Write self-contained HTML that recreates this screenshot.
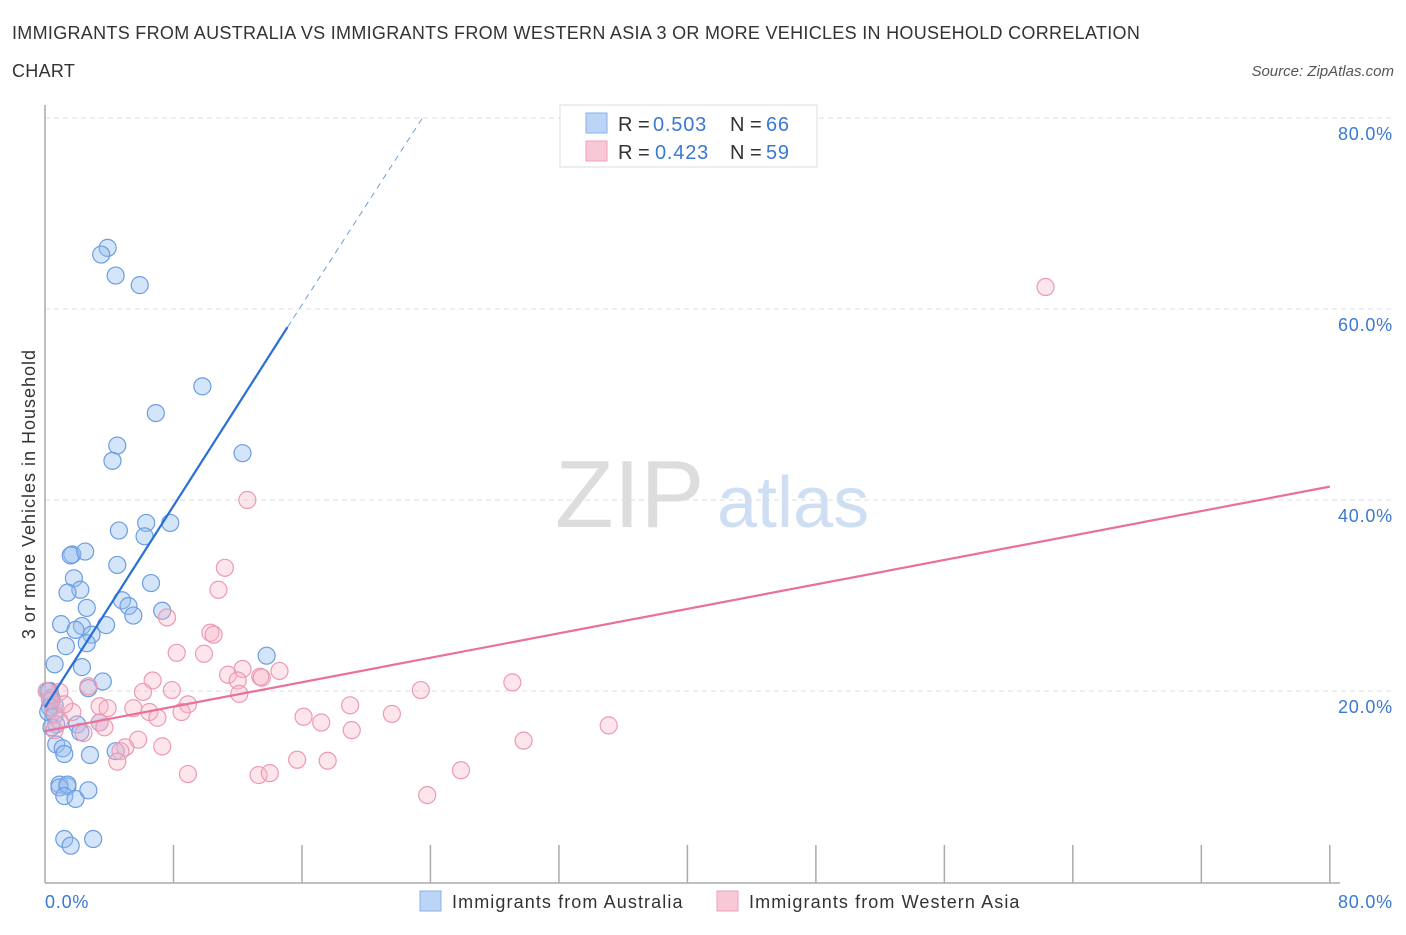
<!DOCTYPE html>
<html><head><meta charset="utf-8"><style>
body{margin:0;background:#fff;font-family:"Liberation Sans",sans-serif;}
svg text{font-family:"Liberation Sans",sans-serif;}
</style></head><body>
<svg id="chart" width="1406" height="930" xmlns="http://www.w3.org/2000/svg">
<text x="12" y="39" font-size="18" fill="#333" letter-spacing="0.3">IMMIGRANTS FROM AUSTRALIA VS IMMIGRANTS FROM WESTERN ASIA 3 OR MORE VEHICLES IN HOUSEHOLD CORRELATION</text>
<text x="12" y="77" font-size="18" fill="#333" letter-spacing="0.3">CHART</text>
<text x="1394" y="76" font-size="15" fill="#555" font-style="italic" text-anchor="end">Source: ZipAtlas.com</text>
<g><text x="555" y="527" font-size="96" fill="#ddd" font-family="Liberation Serif, serif">ZIP</text><text x="717" y="527" font-size="72" fill="#cfdff3">atlas</text></g>
<g id="grid"></g>
<line x1="45" y1="105" x2="45" y2="883" stroke="#aaa" stroke-width="1.5"/>
<line x1="45" y1="883" x2="1340" y2="883" stroke="#aaa" stroke-width="1.5"/>
<g id="ticks"></g>
<text x="35" y="494" font-size="18" fill="#333" letter-spacing="1" transform="rotate(-90 35 494)" text-anchor="middle">3 or more Vehicles in Household</text>
<text x="45" y="908" font-size="18" fill="#3a78d4" letter-spacing="0.8">0.0%</text>
<text x="1393" y="908" font-size="18" fill="#3a78d4" letter-spacing="0.8" text-anchor="end">80.0%</text>
<g id="pts"></g>
<g id="lines"></g>
<g>
<rect x="560" y="105" width="257" height="62" fill="#fff" stroke="#ddd"/>
<rect x="586" y="113" width="21" height="20" fill="#bcd4f5" stroke="#8ab0e8"/>
<rect x="586" y="141" width="21" height="20" fill="#f9c8d6" stroke="#eea0b8"/>
<text x="618" y="131" font-size="20" fill="#333">R =</text>
<text x="653" y="131" font-size="20" fill="#3a78d4" letter-spacing="0.8">0.503</text>
<text x="730" y="131" font-size="20" fill="#333">N =</text>
<text x="766" y="131" font-size="20" fill="#3a78d4" letter-spacing="0.8">66</text>
<text x="618" y="159" font-size="20" fill="#333">R =</text>
<text x="655" y="159" font-size="20" fill="#3a78d4" letter-spacing="0.8">0.423</text>
<text x="730" y="159" font-size="20" fill="#333">N =</text>
<text x="766" y="159" font-size="20" fill="#3a78d4" letter-spacing="0.8">59</text>
</g>
<g>
<rect x="420" y="891" width="21" height="20" fill="#bcd4f5" stroke="#8ab0e8"/>
<text x="452" y="908" font-size="18" fill="#333" letter-spacing="1.1">Immigrants from Australia</text>
<rect x="717" y="891" width="21" height="20" fill="#f9c8d6" stroke="#eea0b8"/>
<text x="749" y="908" font-size="18" fill="#333" letter-spacing="1.1">Immigrants from Western Asia</text>
</g>
</svg>
<script>
const yTicks=[20,40,60,80];
const xTickVals=[8,16,24,32,40,48,56,64,72,80];
const blueX=[3.9,3.5,4.4,5.9,9.8,6.9,4.5,4.2,12.3,6.3,7.8,4.6,6.2,1.7,1.6,2.5,4.5,6.6,1.8,2.2,1.4,4.8,5.2,2.6,5.5,7.3,1.0,2.3,3.8,1.9,2.9,2.6,1.3,13.8,0.6,2.3,3.6,2.7,0.3,0.4,0.6,0.3,0.2,0.6,0.7,2.0,3.4,0.4,2.2,0.7,1.1,1.2,2.8,4.4,0.9,1.4,0.9,1.4,1.2,1.9,2.7,1.2,1.6,3.0,0.2,0.4];
const blueY=[66.4,65.7,63.5,62.5,51.9,49.1,45.7,44.1,44.9,37.6,37.6,36.8,36.2,34.3,34.2,34.6,33.2,31.3,31.8,30.6,30.3,29.5,28.9,28.7,27.9,28.4,27.0,26.8,26.9,26.4,25.9,25.0,24.7,23.7,22.8,22.5,21.0,20.3,20.0,19.3,18.5,18.3,17.8,17.5,16.5,16.5,16.7,16.2,15.7,14.4,14.0,13.4,13.3,13.7,10.2,10.0,9.9,10.2,9.0,8.7,9.6,4.5,3.8,4.5,20.0,19.0];
const pinkX=[62.3,12.6,11.2,10.8,7.6,10.3,10.5,8.2,9.9,12.3,6.7,11.4,12.0,13.4,14.6,13.5,29.1,23.4,12.1,6.1,7.9,2.7,19.0,0.9,0.3,0.6,3.4,1.7,1.2,3.9,5.5,6.5,8.9,8.5,21.6,16.1,17.2,7.0,3.4,3.7,2.4,19.1,35.1,5.8,7.3,5.0,4.7,4.5,29.8,15.7,17.6,8.9,13.3,14.0,25.9,23.8,0.6,0.9,0.1];
const pinkY=[62.3,40.0,32.9,30.6,27.7,26.1,25.9,24.0,23.9,22.3,21.1,21.7,21.1,21.5,22.1,21.4,20.9,20.1,19.7,19.9,20.1,20.5,18.5,19.9,19.1,17.9,18.4,17.8,18.6,18.2,18.2,17.8,18.6,17.8,17.6,17.3,16.7,17.2,16.7,16.2,15.6,15.9,16.4,14.9,14.2,14.1,13.7,12.6,14.8,12.8,12.7,11.3,11.2,11.4,11.7,9.1,15.9,16.9,20.0];
const blueFit=[[0,18.3],[15.1,58.1],[23.5,80.0]];
const pinkFit=[[0,15.8],[80,41.4]];
const X=v=>45+v*16.06, Y=v=>882-v*9.55;
const NS='http://www.w3.org/2000/svg';
function mk(parent,tag,attrs){const e=document.createElementNS(NS,tag);for(const k in attrs)e.setAttribute(k,attrs[k]);document.getElementById(parent).appendChild(e);return e;}
yTicks.forEach(t=>{
 const l=mk('grid','line',{x1:45,x2:1395,y1:Y(t),y2:Y(t),stroke:'#ddd','stroke-dasharray':'5,4'});
 
 
 const tx=mk('grid','text',{x:1393,y:Y(t)+22,'font-size':18,fill:'#3a78d4','text-anchor':'end','letter-spacing':0.8});
 tx.textContent=t.toFixed(1)+'%';
 
 
});
xTickVals.forEach(t=>{
 const l=mk('ticks','line',{x1:X(t),x2:X(t),y1:845,y2:883,stroke:'#aaa','stroke-width':1.5});
 
 
});
blueX.forEach((v,i)=>{
 const c=mk('pts','circle',{cx:X(v),cy:Y(blueY[i]),r:8.5,fill:'rgba(150,190,240,0.4)',stroke:'#6b9de0','stroke-width':1.2});
 
 
});
pinkX.forEach((v,i)=>{
 const c=mk('pts','circle',{cx:X(v),cy:Y(pinkY[i]),r:8.5,fill:'rgba(248,180,200,0.35)',stroke:'#ec9ab2','stroke-width':1.2});
 
 
});
const b1=mk('lines','line',{x1:X(blueFit[0][0]),y1:Y(blueFit[0][1]),x2:X(blueFit[1][0]),y2:Y(blueFit[1][1]),stroke:'#2a6fd6','stroke-width':2.2});


const b2=mk('lines','line',{x1:X(blueFit[1][0]),y1:Y(blueFit[1][1]),x2:X(blueFit[2][0]),y2:Y(blueFit[2][1]),stroke:'#6b9de0','stroke-width':1,'stroke-dasharray':'6,5'});


const p1=mk('lines','line',{x1:X(pinkFit[0][0]),y1:Y(pinkFit[0][1]),x2:X(pinkFit[1][0]),y2:Y(pinkFit[1][1]),stroke:'#e8709a','stroke-width':2.2});


</script>
</body></html>
